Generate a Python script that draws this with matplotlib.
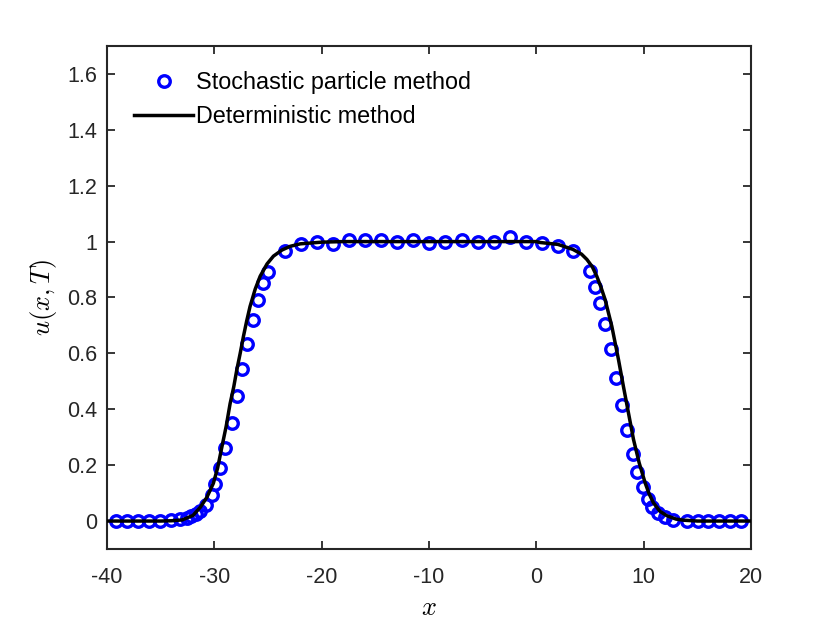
import numpy as np
import matplotlib
matplotlib.use("Agg")
import matplotlib.pyplot as plt

plt.rcParams["font.family"] = ["Liberation Sans", "DejaVu Sans"]
plt.rcParams["mathtext.fontset"] = "cm"
plt.rcParams["axes.unicode_minus"] = False

# particle method (markers)
x_particle = [-39.16, -38.1, -37.1, -36.1, -35.1, -34.05, -33.2, -32.6, -32.2, -31.7,
              -31.3, -30.75, -30.25, -29.94, -29.45, -29.0, -28.38, -27.92, -27.45,
              -26.98, -26.42, -25.9, -25.43, -24.97, -23.45, -21.95, -20.46, -18.97,
              -17.42, -15.96, -14.5, -12.95, -11.47, -9.97, -8.5, -6.95, -5.4, -4.0,
              -2.45, -0.96, 0.5, 1.99, 3.42, 4.97, 5.42, 5.93, 6.40, 6.93, 7.42, 7.95,
              8.48, 8.96, 9.41, 9.9, 10.36, 10.8, 11.35, 11.95, 12.7, 14.05, 15.05,
              16.0, 17.03, 18.05, 19.04]
u_particle = [0.0, 0.0, 0.0, 0.0, 0.0, 0.002, 0.006, 0.012, 0.018, 0.026,
              0.036, 0.058, 0.092, 0.134, 0.19, 0.261, 0.352, 0.446, 0.544,
              0.634, 0.72, 0.792, 0.852, 0.89, 0.965, 0.99, 0.998, 0.993,
              1.007, 1.007, 1.007, 1.0, 1.007, 0.995, 1.0, 1.004, 0.998, 1.0,
              1.018, 0.997, 0.994, 0.983, 0.968, 0.894, 0.838, 0.781, 0.706, 0.617, 0.512, 0.416,
              0.326, 0.24, 0.174, 0.121, 0.08, 0.051, 0.028, 0.014, 0.005, 0.0, 0.0,
              0.0, 0.0, 0.0, 0.0]

# deterministic method (line)
x_det = [-40.0, -35.0, -34.0, -33.0, -32.0, -31.3, -30.7, -30.1, -29.7, -29.3,
         -28.9, -28.54, -28.2, -27.92, -27.6, -27.3, -27.0, -26.68, -26.2, -25.74,
         -25.1, -24.5, -23.7, -22.95, -22.0, -20.0, -18.0, 0.0, 0.28, 2.0, 3.4,
         4.2, 4.7, 5.2, 5.62, 6.0, 6.4, 7.02, 7.64, 8.1, 8.57, 9.04, 9.57, 10.13,
         10.5, 10.9, 11.5, 12.15, 13.0, 13.7, 15.0, 20.0]
u_det = [0.0, 0.0, 0.001, 0.004, 0.02, 0.05, 0.085, 0.135, 0.19, 0.266,
         0.34, 0.42, 0.48, 0.54, 0.60, 0.66, 0.715, 0.768, 0.83, 0.876,
         0.92, 0.948, 0.97, 0.983, 0.992, 0.998, 1.0, 1.0, 0.997, 0.99, 0.972,
         0.955, 0.936, 0.91, 0.876, 0.838, 0.792, 0.697, 0.578, 0.482, 0.387, 0.292, 0.208, 0.136,
         0.097, 0.065, 0.035, 0.019, 0.007, 0.003, 0.0, 0.0]

xticks = [-40, -30, -20, -10, 0, 10, 20]
yticks = [0, 0.2, 0.4, 0.6, 0.8, 1.0, 1.2, 1.4, 1.6]
yticklabels = ["0", "0.2", "0.4", "0.6", "0.8", "1", "1.2", "1.4", "1.6"]

fig = plt.figure(figsize=(8.3, 6.23), dpi=100)
ax = fig.add_axes([0.129, 0.1188, 0.776, 0.8074])

ax.plot(x_particle, u_particle, "o", color="blue", markerfacecolor="none",
        markersize=8.3, markeredgewidth=2.4, label="Stochastic particle method", zorder=2)
ax.plot(x_det, u_det, "-", color="black", linewidth=2.5,
        label="Deterministic method", zorder=3)

ax.set_xlim(-40, 20)
ax.set_ylim(-0.1, 1.7)
ax.set_xticks(xticks)
ax.set_yticks(yticks)
ax.set_yticklabels(yticklabels)
ax.tick_params(direction="in", top=True, right=True, length=6, width=1.3,
               labelsize=15.5, colors="#262626")
ax.tick_params(axis="x", pad=13)
ax.tick_params(axis="y", pad=7)
for sp in ax.spines.values():
    sp.set_linewidth(1.5)
    sp.set_color("#262626")

ax.set_xlabel(r"$x$", fontsize=19, labelpad=6)
ax.set_ylabel(r"$u(x,T)$", fontsize=19, labelpad=6)

ax.legend(loc="upper left", frameon=False, fontsize=16.8, handlelength=2.5,
          handletextpad=0.15, borderaxespad=0.0, labelspacing=0.45,
          bbox_to_anchor=(0.028, 0.968))

fig.savefig("out.png", dpi=100)
